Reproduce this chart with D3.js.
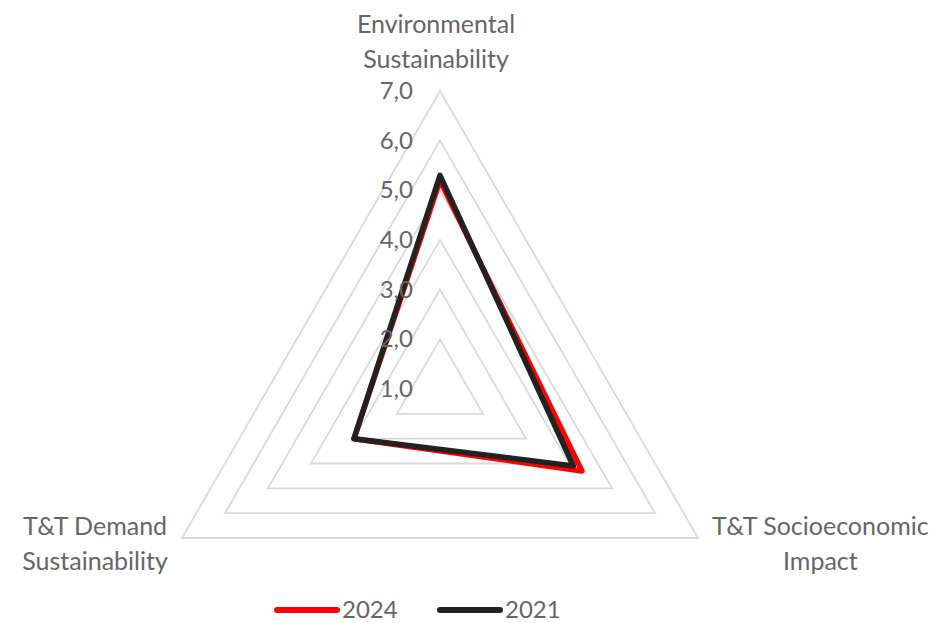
<!DOCTYPE html>
<html>
<head>
<meta charset="utf-8">
<script src="https://cdn.jsdelivr.net/npm/d3@7"></script>
<style>
  body { margin: 0; background: #fff; }
  svg text { font-family: Lato, "Open Sans", sans-serif; fill: #666; }
</style>
</head>
<body>
<div id="chart"></div>
<script>
// categories, clockwise from the top
const categories = ["Environmental\nSustainability", "T&T Socioeconomic\nImpact", "T&T Demand\nSustainability"];
const series = ["2024", "2021"];
const values2024 = [5.2, 4.3, 3.0];
const values2021 = [5.3, 4.1, 3.0];
const ticks = [1, 2, 3, 4, 5, 6, 7];
const tickLabels = ["1,0", "2,0", "3,0", "4,0", "5,0", "6,0", "7,0"];

const colors = {"2024": "#ff0000", "2021": "#222222"};
const data = {"2024": values2024, "2021": values2021};

const width = 936, height = 623;
const cx = 440, cy = 389;

const svg = d3.select("#chart").append("svg")
    .attr("width", width)
    .attr("height", height);

const g = svg.append("g").attr("transform", "translate(" + cx + "," + cy + ")");

const r = d3.scaleLinear().domain([1, 7]).range([0, 298]);
const angle = d3.scalePoint().domain(d3.range(categories.length)).range([0, 2 * Math.PI * (categories.length - 1) / categories.length]);

const pt = (i, v) => {
    const a = angle(i) - Math.PI / 2;
    return [r(v) * Math.cos(a), r(v) * Math.sin(a)];
};

//////////////
/// Grid   ///
//////////////

const radial = d3.lineRadial()
    .angle((d, i) => angle(i))
    .curve(d3.curveLinearClosed);

g.selectAll(".grid")
    .data(ticks.slice(1))
    .enter()
    .append("path")
    .attr("class", "grid")
    .attr("d", t => radial.radius(() => r(t))(categories))
    .attr("fill", "none")
    .attr("stroke", "#d9d9d9")
    .attr("stroke-width", 1.8);

//////////////
/// Series ///
//////////////

series.forEach(s => {
    g.append("path")
        .attr("d", radial.radius(d => r(d))(data[s]))
        .attr("fill", "none")
        .attr("stroke", colors[s])
        .attr("stroke-width", 5.5)
        .attr("stroke-linejoin", "round");
});

/////////////
/// Ticks ///
/////////////

g.selectAll(".tick")
    .data(ticks)
    .enter()
    .append("text")
    .attr("class", "tick")
    .attr("text-anchor", "end")
    .attr("x", -27)
    .attr("y", t => -r(t) + 8)
    .attr("font-size", "24px")
    .text((t, i) => tickLabels[i]);

//////////////
/// Labels ///
//////////////

categories.forEach((c, i) => {
    const lines = c.split("\n");
    const [vx, vy] = pt(i, 7);
    const lab = g.append("text")
        .attr("text-anchor", "middle")
        .attr("font-size", "25px");
    lines.forEach((l, j) => {
        lab.append("tspan").attr("x", 0).attr("y", j * 35).text(l);
    });
    const w = lab.node().getBBox().width;
    let x, y;
    if (i === 0) {
        x = vx - 4;
        y = vy - 23 - 35 * (lines.length - 1);
    } else if (vx > 0) {
        x = vx + 14 + w / 2;
        y = vy - 3;
    } else {
        x = vx - 14 - w / 2;
        y = vy - 3;
    }
    lab.attr("transform", "translate(" + x + "," + y + ")");
});

//////////////
/// Legend ///
//////////////

const legend = svg.append("g").attr("transform", "translate(274,610)");

series.forEach((s, i) => {
    const item = legend.append("g").attr("transform", "translate(" + (i * 163) + ",0)");
    item.append("line")
        .attr("x1", 3).attr("x2", 63)
        .attr("stroke", colors[s])
        .attr("stroke-width", 6)
        .attr("stroke-linecap", "round");
    item.append("text")
        .attr("x", 68)
        .attr("y", 8)
        .attr("font-size", "24px")
        .text(s);
});
</script>
</body>
</html>
